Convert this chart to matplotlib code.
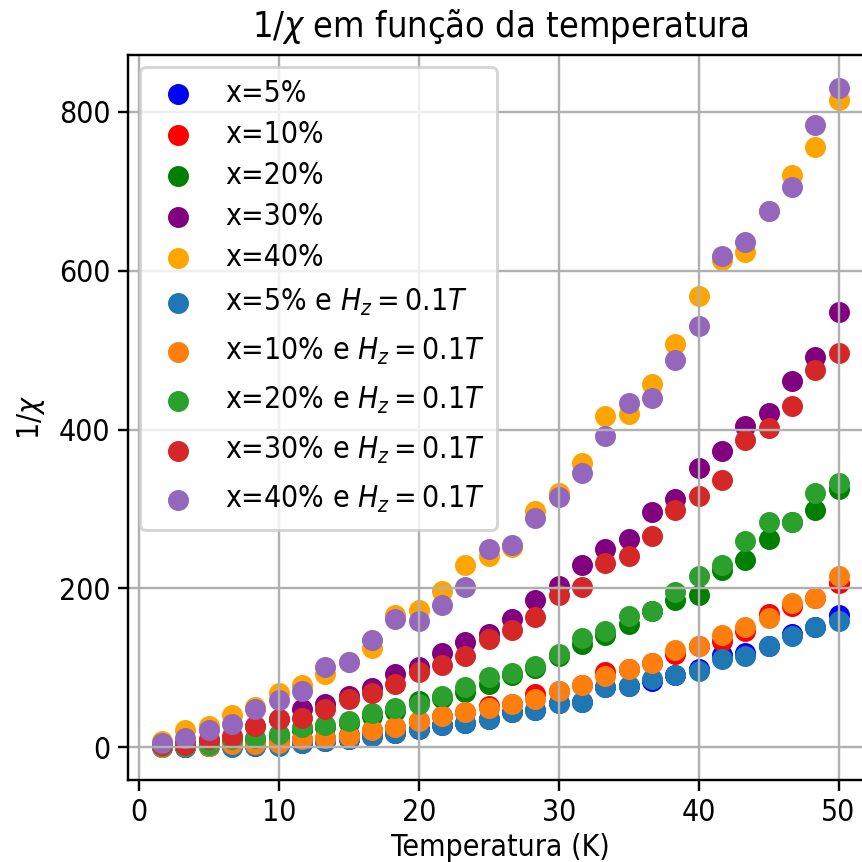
import matplotlib
matplotlib.use("Agg")
import matplotlib.pyplot as plt

plt.rcParams["font.family"] = ["DejaVu Sans"]
plt.rcParams["font.stretch"] = "condensed"
plt.rcParams["mathtext.fontset"] = "dejavusans"

# temperaturas simuladas (K)
temperaturas = [1.67, 3.33, 5.0, 6.67, 8.33, 10.0, 11.67, 13.33, 15.0, 16.67,
                18.33, 20.0, 21.67, 23.33, 25.0, 26.67, 28.33, 30.0, 31.67, 33.33,
                35.0, 36.67, 38.33, 40.0, 41.67, 43.33, 45.0, 46.67, 48.33, 50.0]

# 1/chi sem campo
inv_chi_5 = [0, 0, 1, 1, 2, 3, 5, 8, 10, 14, 18, 23, 28, 31, 36, 44, 47, 55, 57, 76,
             77, 83, 91, 98, 116, 119, 127, 142, 151, 167]
inv_chi_10 = [1, 2, 3, 4, 5, 6, 10, 12, 15, 21, 26, 33, 39, 44, 52, 54, 67, 71, 78, 95,
              99, 106, 117, 127, 134, 146, 168, 178, 188, 207]
inv_chi_20 = [1, 0, 2, 8, 10, 14, 21, 25, 31, 39, 46, 58, 62, 70, 80, 91, 100, 115, 130, 141,
              155, 171, 185, 192, 223, 236, 262, 283, 299, 325]
inv_chi_30 = [4, 5, 8, 12, 27, 35, 48, 54, 65, 75, 92, 101, 119, 132, 142, 162, 185, 203, 229, 250,
              262, 296, 313, 352, 373, 404, 421, 461, 491, 548]
inv_chi_40 = [8, 22, 27, 41, 51, 68, 78, 92, 107, 125, 167, 173, 197, 229, 241, 252, 297, 320, 358, 417,
              419, 457, 508, 568, 614, 624, 675, 720, 756, 815]

# 1/chi com campo Hz = 0.1T
inv_chi_5_h = [0, 0, 1, 0, 1, 2, 5, 8, 10, 14, 18, 23, 28, 31, 36, 44, 47, 55, 57, 76,
               77, 86, 91, 96, 111, 115, 127, 140, 151, 159]
inv_chi_10_h = [0, 1, 2, 4, 4, 5, 10, 12, 14, 21, 26, 33, 39, 44, 49, 54, 61, 71, 78, 89,
                99, 106, 122, 127, 141, 151, 163, 182, 188, 216]
inv_chi_20_h = [1, 1, 3, 10, 11, 16, 25, 28, 33, 43, 49, 54, 65, 76, 88, 93, 102, 117, 138, 146,
                165, 171, 195, 216, 230, 260, 283, 283, 320, 333]
inv_chi_30_h = [3, 3, 10, 14, 27, 35, 37, 48, 61, 68, 79, 95, 103, 115, 136, 148, 164, 191, 202, 232,
                241, 266, 299, 316, 336, 387, 402, 430, 475, 497]
inv_chi_40_h = [5, 11, 21, 29, 48, 60, 71, 101, 107, 135, 161, 159, 179, 202, 250, 255, 289, 315, 345, 392,
                434, 440, 487, 531, 618, 636, 675, 705, 783, 830]

fig = plt.figure(figsize=(862 / 216, 862 / 216), dpi=216)
ax = fig.add_axes([0.149, 0.095, 0.863, 0.841])

ax.scatter(temperaturas, inv_chi_5, color="blue", label="x=5%")
ax.scatter(temperaturas, inv_chi_10, color="red", label="x=10%")
ax.scatter(temperaturas, inv_chi_20, color="green", label="x=20%")
ax.scatter(temperaturas, inv_chi_30, color="purple", label="x=30%")
ax.scatter(temperaturas, inv_chi_40, color="orange", label="x=40%")

ax.scatter(temperaturas, inv_chi_5_h, label="x=5% e $H_z = 0.1T$")
ax.scatter(temperaturas, inv_chi_10_h, label="x=10% e $H_z = 0.1T$")
ax.scatter(temperaturas, inv_chi_20_h, label="x=20% e $H_z = 0.1T$")
ax.scatter(temperaturas, inv_chi_30_h, label="x=30% e $H_z = 0.1T$")
ax.scatter(temperaturas, inv_chi_40_h, label="x=40% e $H_z = 0.1T$")

ax.set_title(r"$1/\chi$ em função da temperatura")
ax.set_xlabel("Temperatura (K)", labelpad=2)
ax.set_ylabel(r"$1/\chi$")
ax.tick_params(pad=2.5)
ax.grid(True)

leg = ax.legend(loc="upper left", labelspacing=0.4, handlelength=1.7,
                handletextpad=0.73, borderaxespad=0.4)

# linhas com mathtext ficam um pouco mais altas: estica a caixa do marcador
fig.canvas.draw()
renderer = fig.canvas.get_renderer()
pt = renderer.points_to_pixels(1.0)
extra = 1.0
for row in leg._legend_handle_box.get_children()[0].get_children()[5:]:
    handlebox, textbox = row.get_children()
    tb = textbox.get_bbox(renderer)
    handlebox.ydescent = -tb.y0 / pt + extra
    handlebox.height = tb.height / pt + 2 * extra

fig.savefig("out.png", dpi=216)
